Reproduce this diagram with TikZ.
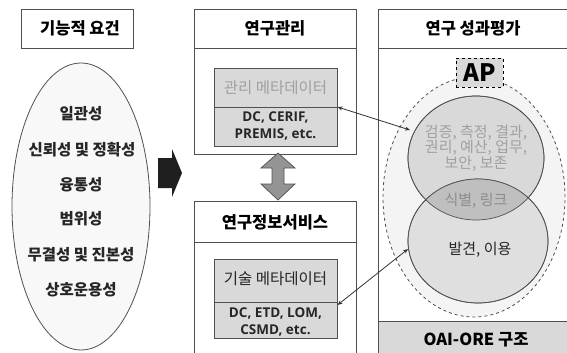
\documentclass[tikz,border=0pt]{standalone}
\usepackage{fontspec}
\setmainfont{Noto Sans CJK KR}
\newfontfamily\lat{Open Sans}
\usetikzlibrary{arrows.meta,shapes.geometric}
\definecolor{edge}{HTML}{505050}
\definecolor{boxgray}{HTML}{D9D9D9}
\definecolor{pale}{HTML}{F4F4F4}
\definecolor{midgray}{HTML}{BFBFBF}
\definecolor{txtgray}{HTML}{A0A0A0}
\tikzset{
  frame/.style={draw=edge, line width=0.8pt},
  inner/.style={draw=edge, line width=0.8pt, fill=boxgray},
  head/.style={font=\fontsize{16.5}{18}\selectfont\bfseries, text=black},
  item/.style={font=\fontsize{15.5}{17}\selectfont\bfseries, text=black!85},
  latin/.style={font=\fontsize{13.5}{17}\selectfont\lat\bfseries, align=center, text=black!85},
  circ/.style={font=\fontsize{15}{15.5}\selectfont, align=center},
  link/.style={{Stealth[length=5pt,width=4pt]}-{Stealth[length=5pt,width=4pt]}, line width=0.8pt, draw=black!80},
}
\begin{document}
\begin{tikzpicture}[x=1pt,y=-1pt]
\useasboundingbox (0,0) rectangle (567,353);
\fill[white] (0,0) rectangle (567,353);
% left column
\draw[frame] (21,9) rectangle (133,48);
\node[head] (lhead) at (80,28.5) {기능적 요건};
\node[ellipse, frame, fill=pale!60!white, minimum width=138pt, minimum height=287pt] (req) at (81,206.5) {};
\node[item] (r1) at (81,114) {일관성};
\node[item] (r2) at (82,150) {신뢰성 및 정확성};
\node[item] (r3) at (81,185) {융통성};
\node[item] (r4) at (81,219) {범위성};
\node[item] (r5) at (81,255) {무결성 및 진본성};
\node[item] (r6) at (81,290) {상호운용성};
% black arrow
\fill[black!88] (158,158) -- (172,158) -- (172,149) -- (182,173) -- (172,197) -- (172,188) -- (158,188) -- cycle;
% middle upper
\draw[frame] (194,9) rectangle (356,154);
\draw[frame] (194,48) -- (356,48);
\node[head] (mhead) at (275,28.5) {연구관리};
\node[inner, anchor=north west, minimum width=123pt, minimum height=78pt] (mgmt) at (214,68) {};
\draw[frame] (214,107) -- (337,107);
\node[font=\fontsize{15.5}{17}\selectfont, text=txtgray] (mgmtt) at (275.5,88) {관리 메타데이터};
\node[latin] (mgmtl) at (275.5,126) {DC, CERIF,\\PREMIS, etc.};
% gray double arrow
\draw[draw=edge, line width=0.7pt, fill=black!42] (278,153) -- (295,168) -- (284,168) -- (284,184) -- (295,184) -- (278,200) -- (261,184) -- (272,184) -- (272,168) -- (261,168) -- cycle;
% middle lower
\draw[frame] (194,356) -- (194,201) -- (356,201) -- (356,356);
\draw[frame] (194,242) -- (356,242);
\node[head] (shead) at (275,222) {연구정보서비스};
\node[inner, anchor=north west, minimum width=123pt, minimum height=79pt] (tech) at (214,259) {};
\draw[frame] (214,302) -- (337,302);
\node[font=\fontsize{15.5}{17}\selectfont, text=black!85] (techt) at (275.5,279) {기술 메타데이터};
\node[latin] (techl) at (275.5,322) {DC, ETD, LOM,\\CSMD, etc.};
% right
\draw[frame] (570,9) -- (378,9) -- (378,356);
\draw[frame] (378,48) -- (570,48);
\node[head] (rhead) at (473,28.5) {연구 성과평가};
\draw[frame, fill=boxgray] (378,321) rectangle (570,356);
\node[head] (ore) at (476,340) {OAI-ORE 구조};
\node[ellipse, draw=edge, dashed, line width=0.8pt, fill=pale, minimum width=182pt, minimum height=240pt] (ap) at (474,197) {};
\node[ellipse, draw=edge, line width=0.7pt, fill=boxgray, minimum width=136pt, minimum height=124pt] (up) at (476,158) {};
\node[ellipse, draw=edge, line width=0.7pt, fill=boxgray!85!white, minimum width=140pt, minimum height=124pt] (low) at (478,241) {};
\begin{scope}
\clip (476,158) ellipse [x radius=68, y radius=62];
\fill[midgray] (478,241) ellipse [x radius=70, y radius=62];
\end{scope}
\draw[draw=edge, line width=0.7pt] (476,158) ellipse [x radius=68, y radius=62];
\draw[draw=edge, line width=0.7pt] (478,241) ellipse [x radius=70, y radius=62];
\node[circ, text=txtgray] (upt) at (476,148) {검증, 측정, 결과,\\권리, 예산, 업무,\\보안, 보존};
\node[circ, text=black!45] (mid) at (476,201) {식별, 링크};
\node[circ, text=black!85] (lowt) at (480,250) {발견, 이용};
\node[draw=black, dashed, line width=0.8pt, fill=boxgray, minimum width=47pt, minimum height=29pt, inner sep=0pt, font=\fontsize{24}{24}\selectfont\bfseries] (apl) at (479.5,72.5) {AP};
% connectors
\coordinate (c1) at (410,130);
\coordinate (c2) at (408,249);
\coordinate (m1) at (337.5,107);
\coordinate (t1) at (337.5,305);
\draw[link] (m1) -- (c1);
\draw[link] (t1) -- (c2);
\end{tikzpicture}
\end{document}
